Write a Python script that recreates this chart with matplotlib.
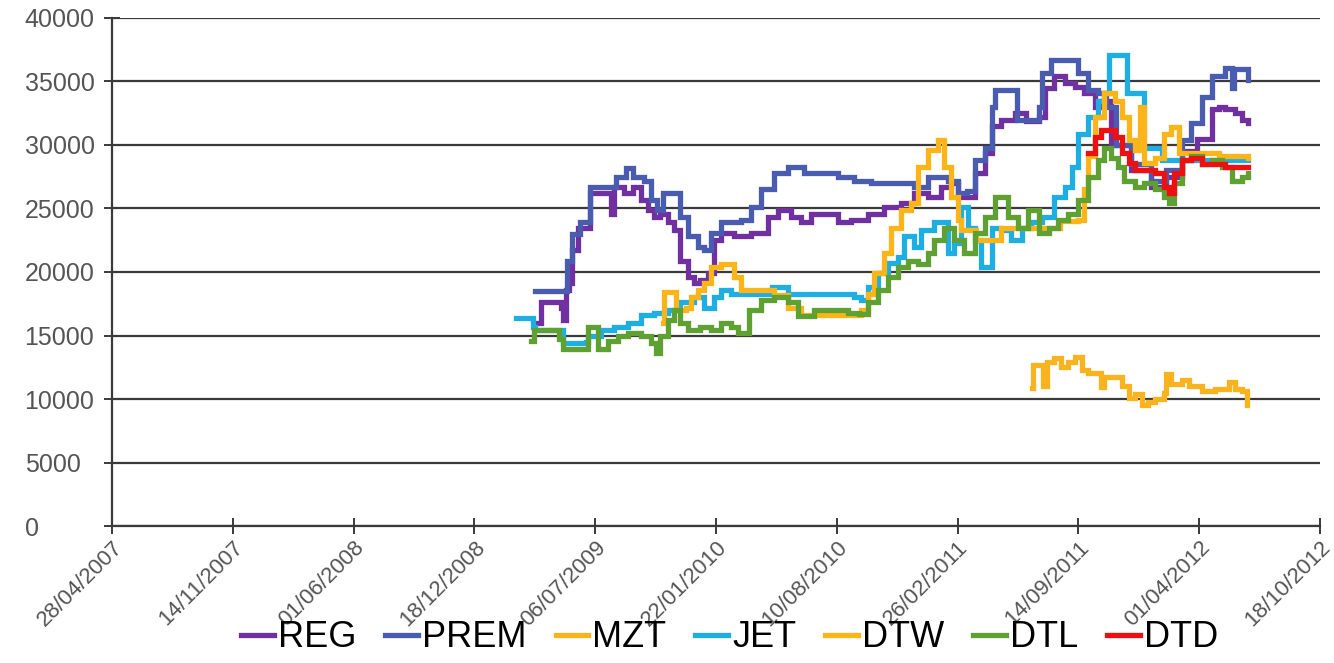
import matplotlib
matplotlib.use("Agg")
import matplotlib.pyplot as plt
import matplotlib.dates as mdates
import numpy as np
import datetime as dt

# ---- data ----
reg_dates = ["2009-03-29", "2009-04-07", "2009-05-02", "2009-05-10", "2009-05-13", "2009-05-18",
             "2009-05-23", "2009-05-29", "2009-06-07", "2009-06-28", "2009-08-01", "2009-08-06",
             "2009-08-22", "2009-09-07", "2009-09-19", "2009-10-01", "2009-10-11", "2009-10-22",
             "2009-11-03", "2009-11-13", "2009-11-24", "2009-12-06", "2009-12-16", "2009-12-27",
             "2010-01-08", "2010-01-18", "2010-01-30", "2010-02-20", "2010-03-21", "2010-04-18",
             "2010-05-05", "2010-05-26", "2010-06-12", "2010-06-28", "2010-07-27", "2010-08-12",
             "2010-09-02", "2010-10-01", "2010-10-27", "2010-11-24", "2010-12-16", "2011-01-08",
             "2011-01-29", "2011-02-15", "2011-02-27", "2011-03-15", "2011-03-26", "2011-04-12",
             "2011-04-24", "2011-05-09", "2011-06-01", "2011-06-20", "2011-07-10", "2011-07-20",
             "2011-08-05", "2011-08-22", "2011-09-08", "2011-09-24", "2011-10-11", "2011-10-22",
             "2011-11-07", "2011-12-10", "2012-01-12", "2012-02-06", "2012-03-03", "2012-03-28",
             "2012-04-13", "2012-04-22", "2012-05-03", "2012-05-13", "2012-05-30", "2012-06-11",
             "2012-06-21"]
reg_vals = [16000, 17600, 17600, 17200, 16200, 18600,
            19100, 21700, 23500, 26200, 24600, 26700,
            26200, 26700, 25700, 24900, 24300, 24600,
            23900, 23300, 20900, 19600, 19100, 19400,
            19900, 22500, 23100, 22800, 23100, 24300,
            24900, 24300, 23900, 24600, 24600, 23900,
            24100, 24600, 25100, 25400, 26200, 25900,
            26700, 27000, 25900, 25900, 27800, 29400,
            31500, 32000, 32500, 31900, 32200, 34500,
            35400, 34900, 34600, 34100, 33000, 33500,
            30000, 28000, 26700, 27500, 29500, 30500,
            30500, 32800, 33000, 32800, 32500, 32000,
            31700]

prem_dates = ["2009-03-29", "2009-05-15", "2009-05-21", "2009-05-29", "2009-06-11", "2009-06-28",
              "2009-08-01", "2009-08-09", "2009-08-26", "2009-09-07", "2009-09-24", "2009-10-06",
              "2009-10-17", "2009-10-27", "2009-11-13", "2009-11-24", "2009-12-06", "2009-12-23",
              "2010-01-02", "2010-01-14", "2010-01-30", "2010-03-04", "2010-03-21", "2010-04-07",
              "2010-04-28", "2010-05-21", "2010-06-17", "2010-07-15", "2010-08-12", "2010-09-07",
              "2010-10-06", "2010-11-03", "2010-11-29", "2010-12-16", "2011-01-08", "2011-02-10",
              "2011-02-27", "2011-03-13", "2011-03-26", "2011-04-12", "2011-04-24", "2011-04-29",
              "2011-06-01", "2011-06-04", "2011-07-10", "2011-07-15", "2011-07-31", "2011-08-28",
              "2011-09-14", "2011-09-30", "2011-10-17", "2011-10-30", "2011-11-16", "2011-12-10",
              "2012-01-12", "2012-02-06", "2012-03-03", "2012-03-19", "2012-04-05", "2012-04-22",
              "2012-05-13", "2012-05-25", "2012-05-28", "2012-06-05", "2012-06-21"]
prem_vals = [18500, 18500, 20900, 23000, 23900, 26700,
             26700, 27500, 28200, 27500, 27200, 25700,
             24900, 26200, 26200, 24300, 22800, 22000,
             21700, 23100, 23900, 24100, 25100, 26500,
             27800, 28300, 27800, 27800, 27500, 27200,
             27000, 27000, 27000, 26700, 27500, 27200,
             26200, 26400, 28800, 29800, 33000, 34300,
             34300, 32000, 33000, 35700, 36700, 36700,
             35700, 34300, 34100, 33000, 30000, 28500,
             27200, 28000, 30400, 31700, 33800, 35400,
             36100, 34500, 36000, 36000, 35100]

mzt_dates = ["2011-06-29", "2011-07-01", "2011-07-12", "2011-07-17", "2011-07-24", "2011-08-05",
             "2011-08-16", "2011-08-28", "2011-09-08", "2011-09-20", "2011-09-30", "2011-10-22",
             "2011-10-27", "2011-11-13", "2011-11-25", "2011-12-06", "2011-12-16", "2011-12-28",
             "2012-01-08", "2012-01-18", "2012-02-03", "2012-02-06", "2012-02-15", "2012-03-03",
             "2012-03-15", "2012-04-05", "2012-04-27", "2012-05-20", "2012-05-30", "2012-06-11",
             "2012-06-19"]
mzt_vals = [10900, 12700, 12700, 11000, 12900, 13200,
            12500, 12900, 13300, 12300, 12050, 10950,
            11700, 11700, 11000, 10100, 10400, 9500,
            9800, 10000, 10500, 12000, 11200, 11500,
            11000, 10600, 10800, 11300, 10800, 10600,
            9500]

jet_dates = ["2009-02-25", "2009-03-22", "2009-03-25", "2009-03-28", "2009-05-10", "2009-05-13",
             "2009-06-20", "2009-06-24", "2009-07-15", "2009-08-06", "2009-08-29", "2009-09-19",
             "2009-10-11", "2009-11-03", "2009-11-24", "2009-12-16", "2010-01-02", "2010-01-18",
             "2010-01-30", "2010-02-15", "2010-04-12", "2010-04-24", "2010-05-21", "2010-07-15",
             "2010-09-07", "2010-09-19", "2010-10-01", "2010-10-17", "2010-11-03", "2010-11-20",
             "2010-11-29", "2010-12-16", "2010-12-28", "2011-01-18", "2011-02-10", "2011-02-20",
             "2011-03-04", "2011-03-15", "2011-03-26", "2011-04-06", "2011-04-18", "2011-04-24",
             "2011-05-09", "2011-05-26", "2011-06-12", "2011-06-28", "2011-07-15", "2011-08-05",
             "2011-08-22", "2011-09-03", "2011-09-14", "2011-09-30", "2011-10-17", "2011-10-27",
             "2011-11-04", "2011-12-03", "2011-12-04", "2011-12-31", "2012-01-01", "2012-01-30",
             "2012-04-05", "2012-06-21"]
jet_vals = [16400, 16400, 15700, 15400, 15400, 14400,
            14500, 15000, 15400, 15700, 16000, 16600,
            16800, 17000, 17600, 18000, 17200, 18000,
            18600, 18300, 18300, 18800, 18300, 18300,
            18000, 17800, 18800, 19900, 20700, 21200,
            22800, 22000, 23300, 23900, 21500, 22300,
            25100, 23500, 22500, 20400, 20400, 23500,
            23300, 22500, 23500, 23900, 24300, 25900,
            26700, 28300, 30900, 32200, 33500, 34100,
            37100, 37100, 34100, 34100, 29800, 28800,
            28800, 28800]

dtw_dates = ["2009-10-27", "2009-10-28", "2009-11-13", "2009-11-17", "2009-12-03", "2009-12-11",
             "2009-12-23", "2010-01-02", "2010-01-14", "2010-01-30", "2010-02-15", "2010-02-20",
             "2010-03-04", "2010-04-18", "2010-04-28", "2010-05-21", "2010-06-12", "2010-09-07",
             "2010-09-19", "2010-10-01", "2010-10-11", "2010-10-27", "2010-11-08", "2010-11-24",
             "2010-12-11", "2010-12-23", "2011-01-08", "2011-01-25", "2011-02-04", "2011-02-15",
             "2011-02-27", "2011-03-04", "2011-03-29", "2011-05-09", "2011-06-28", "2011-08-15",
             "2011-09-14", "2011-09-24", "2011-09-30", "2011-10-11", "2011-10-27", "2011-11-13",
             "2011-11-25", "2011-12-06", "2011-12-16", "2011-12-25", "2012-01-01", "2012-01-18",
             "2012-02-03", "2012-02-15", "2012-02-27", "2012-03-19", "2012-05-03", "2012-06-21"]
dtw_vals = [16000, 18400, 18400, 17000, 17200, 18000,
            18600, 19100, 20400, 20600, 20600, 19600,
            18600, 18600, 18200, 17200, 16600, 16600,
            17000, 18300, 19900, 21500, 23500, 24900,
            25400, 28300, 29600, 30400, 28300, 25900,
            24100, 23300, 22500, 23500, 23500, 24000,
            24100, 26500, 29100, 32200, 34100, 33500,
            32200, 30400, 29600, 33000, 28600, 29000,
            30900, 31400, 29400, 29400, 29100, 29000]

dtl_dates = ["2009-03-22", "2009-03-27", "2009-05-02", "2009-05-07", "2009-05-13", "2009-06-20",
             "2009-06-24", "2009-07-08", "2009-07-10", "2009-07-27", "2009-08-12", "2009-08-29",
             "2009-09-19", "2009-10-06", "2009-10-14", "2009-10-22", "2009-11-03", "2009-11-13",
             "2009-11-24", "2009-12-06", "2009-12-27", "2010-01-14", "2010-01-30", "2010-02-15",
             "2010-02-27", "2010-03-17", "2010-04-07", "2010-04-28", "2010-05-21", "2010-06-07",
             "2010-07-03", "2010-08-01", "2010-08-29", "2010-09-15", "2010-10-01", "2010-10-17",
             "2010-11-03", "2010-11-20", "2010-12-06", "2010-12-23", "2011-01-08", "2011-01-18",
             "2011-02-04", "2011-02-20", "2011-03-08", "2011-03-26", "2011-04-12", "2011-04-29",
             "2011-05-09", "2011-05-21", "2011-06-06", "2011-06-23", "2011-07-10", "2011-07-27",
             "2011-08-12", "2011-08-28", "2011-09-14", "2011-09-30", "2011-10-17", "2011-10-27",
             "2011-11-07", "2011-11-19", "2011-11-29", "2011-12-16", "2012-01-01", "2012-01-18",
             "2012-02-03", "2012-02-11", "2012-02-20", "2012-03-03", "2012-03-19", "2012-04-05",
             "2012-04-22", "2012-05-08", "2012-05-25", "2012-06-11", "2012-06-21"]
dtl_vals = [14600, 15400, 15400, 14700, 13900, 13900,
            15700, 15700, 13900, 14600, 15000, 15200,
            15000, 14400, 13600, 15000, 16200, 17000,
            16000, 15400, 15700, 15400, 16000, 15700,
            15200, 17000, 17800, 18000, 17600, 16500,
            17000, 17000, 16800, 16700, 17600, 18600,
            19600, 20400, 20900, 20600, 21500, 22500,
            23500, 22500, 21500, 23100, 24300, 25900,
            25900, 24300, 23500, 24900, 23100, 23500,
            24100, 24600, 25700, 27500, 28800, 29800,
            29000, 28300, 27200, 26700, 27000, 26500,
            25900, 25400, 27000, 28800, 29100, 28500,
            28800, 28300, 27200, 27500, 27800]

dtd_dates = ["2011-09-30", "2011-10-11", "2011-10-22", "2011-11-03", "2011-11-13", "2011-11-25",
             "2011-12-06", "2011-12-16", "2012-01-18", "2012-02-03", "2012-02-11", "2012-02-20",
             "2012-03-03", "2012-03-19", "2012-04-05", "2012-04-22", "2012-05-13", "2012-06-21"]
dtd_vals = [29400, 30600, 31200, 31200, 30600, 29400,
            28600, 28000, 27800, 26700, 26200, 27800,
            28800, 29000, 28500, 28500, 28300, 28300]

series = [
    ("REG", reg_dates, reg_vals, "#7030A0"),
    ("PREM", prem_dates, prem_vals, "#4A5CB0"),
    ("MZT", mzt_dates, mzt_vals, "#F8B31E"),
    ("JET", jet_dates, jet_vals, "#1EAEE2"),
    ("DTW", dtw_dates, dtw_vals, "#FBB519"),
    ("DTL", dtl_dates, dtl_vals, "#5EA032"),
    ("DTD", dtd_dates, dtd_vals, "#EE1010"),
]

tick_start = dt.date(2007, 4, 28)
tick_dates = [tick_start + dt.timedelta(days=200 * i) for i in range(11)]

plt.rcParams['font.family'] = ['Liberation Sans', 'DejaVu Sans']

fig = plt.figure(figsize=(13.34, 6.63), dpi=100)
ax = fig.add_axes([0.084, 0.2066, 0.9055, 0.7663])

for name, d, v, c in series:
    x = [dt.datetime.strptime(s, "%Y-%m-%d") for s in d]
    ax.plot(x, v, color=c, lw=3.8, drawstyle="steps-post", label=name,
            solid_joinstyle="miter", zorder=3)

ax.set_xlim(tick_dates[0], tick_dates[-1])
ax.set_ylim(0, 40000)
ax.set_yticks(np.arange(0, 40001, 5000))
ax.set_xticks(tick_dates)
ax.xaxis.set_major_formatter(mdates.DateFormatter("%d/%m/%Y"))
ax.yaxis.grid(True, color="#3a3a3a", lw=1.6)
ax.set_axisbelow(True)

for s in ["top", "right"]:
    ax.spines[s].set_visible(False)
for s in ["left", "bottom"]:
    ax.spines[s].set_color("#3a3a3a")
    ax.spines[s].set_linewidth(1.6)

ax.tick_params(axis="both", direction="inout", length=12, width=1.4,
               color="#3a3a3a", labelcolor="#555555")
ax.tick_params(axis="x", labelsize=16, pad=2)
# y labels are left-aligned in the original
ax.tick_params(axis="y", labelsize=18, pad=57)
for lab in ax.get_yticklabels():
    lab.set_ha("left")
plt.setp(ax.get_xticklabels(), rotation=45, ha="right", rotation_mode="anchor")

fig.legend(loc="center", bbox_to_anchor=(0.547, 0.038), ncol=7, frameon=False,
           fontsize=26, handlelength=0.9, handletextpad=0.12, columnspacing=0.8)

fig.savefig("out.png", dpi=100)
